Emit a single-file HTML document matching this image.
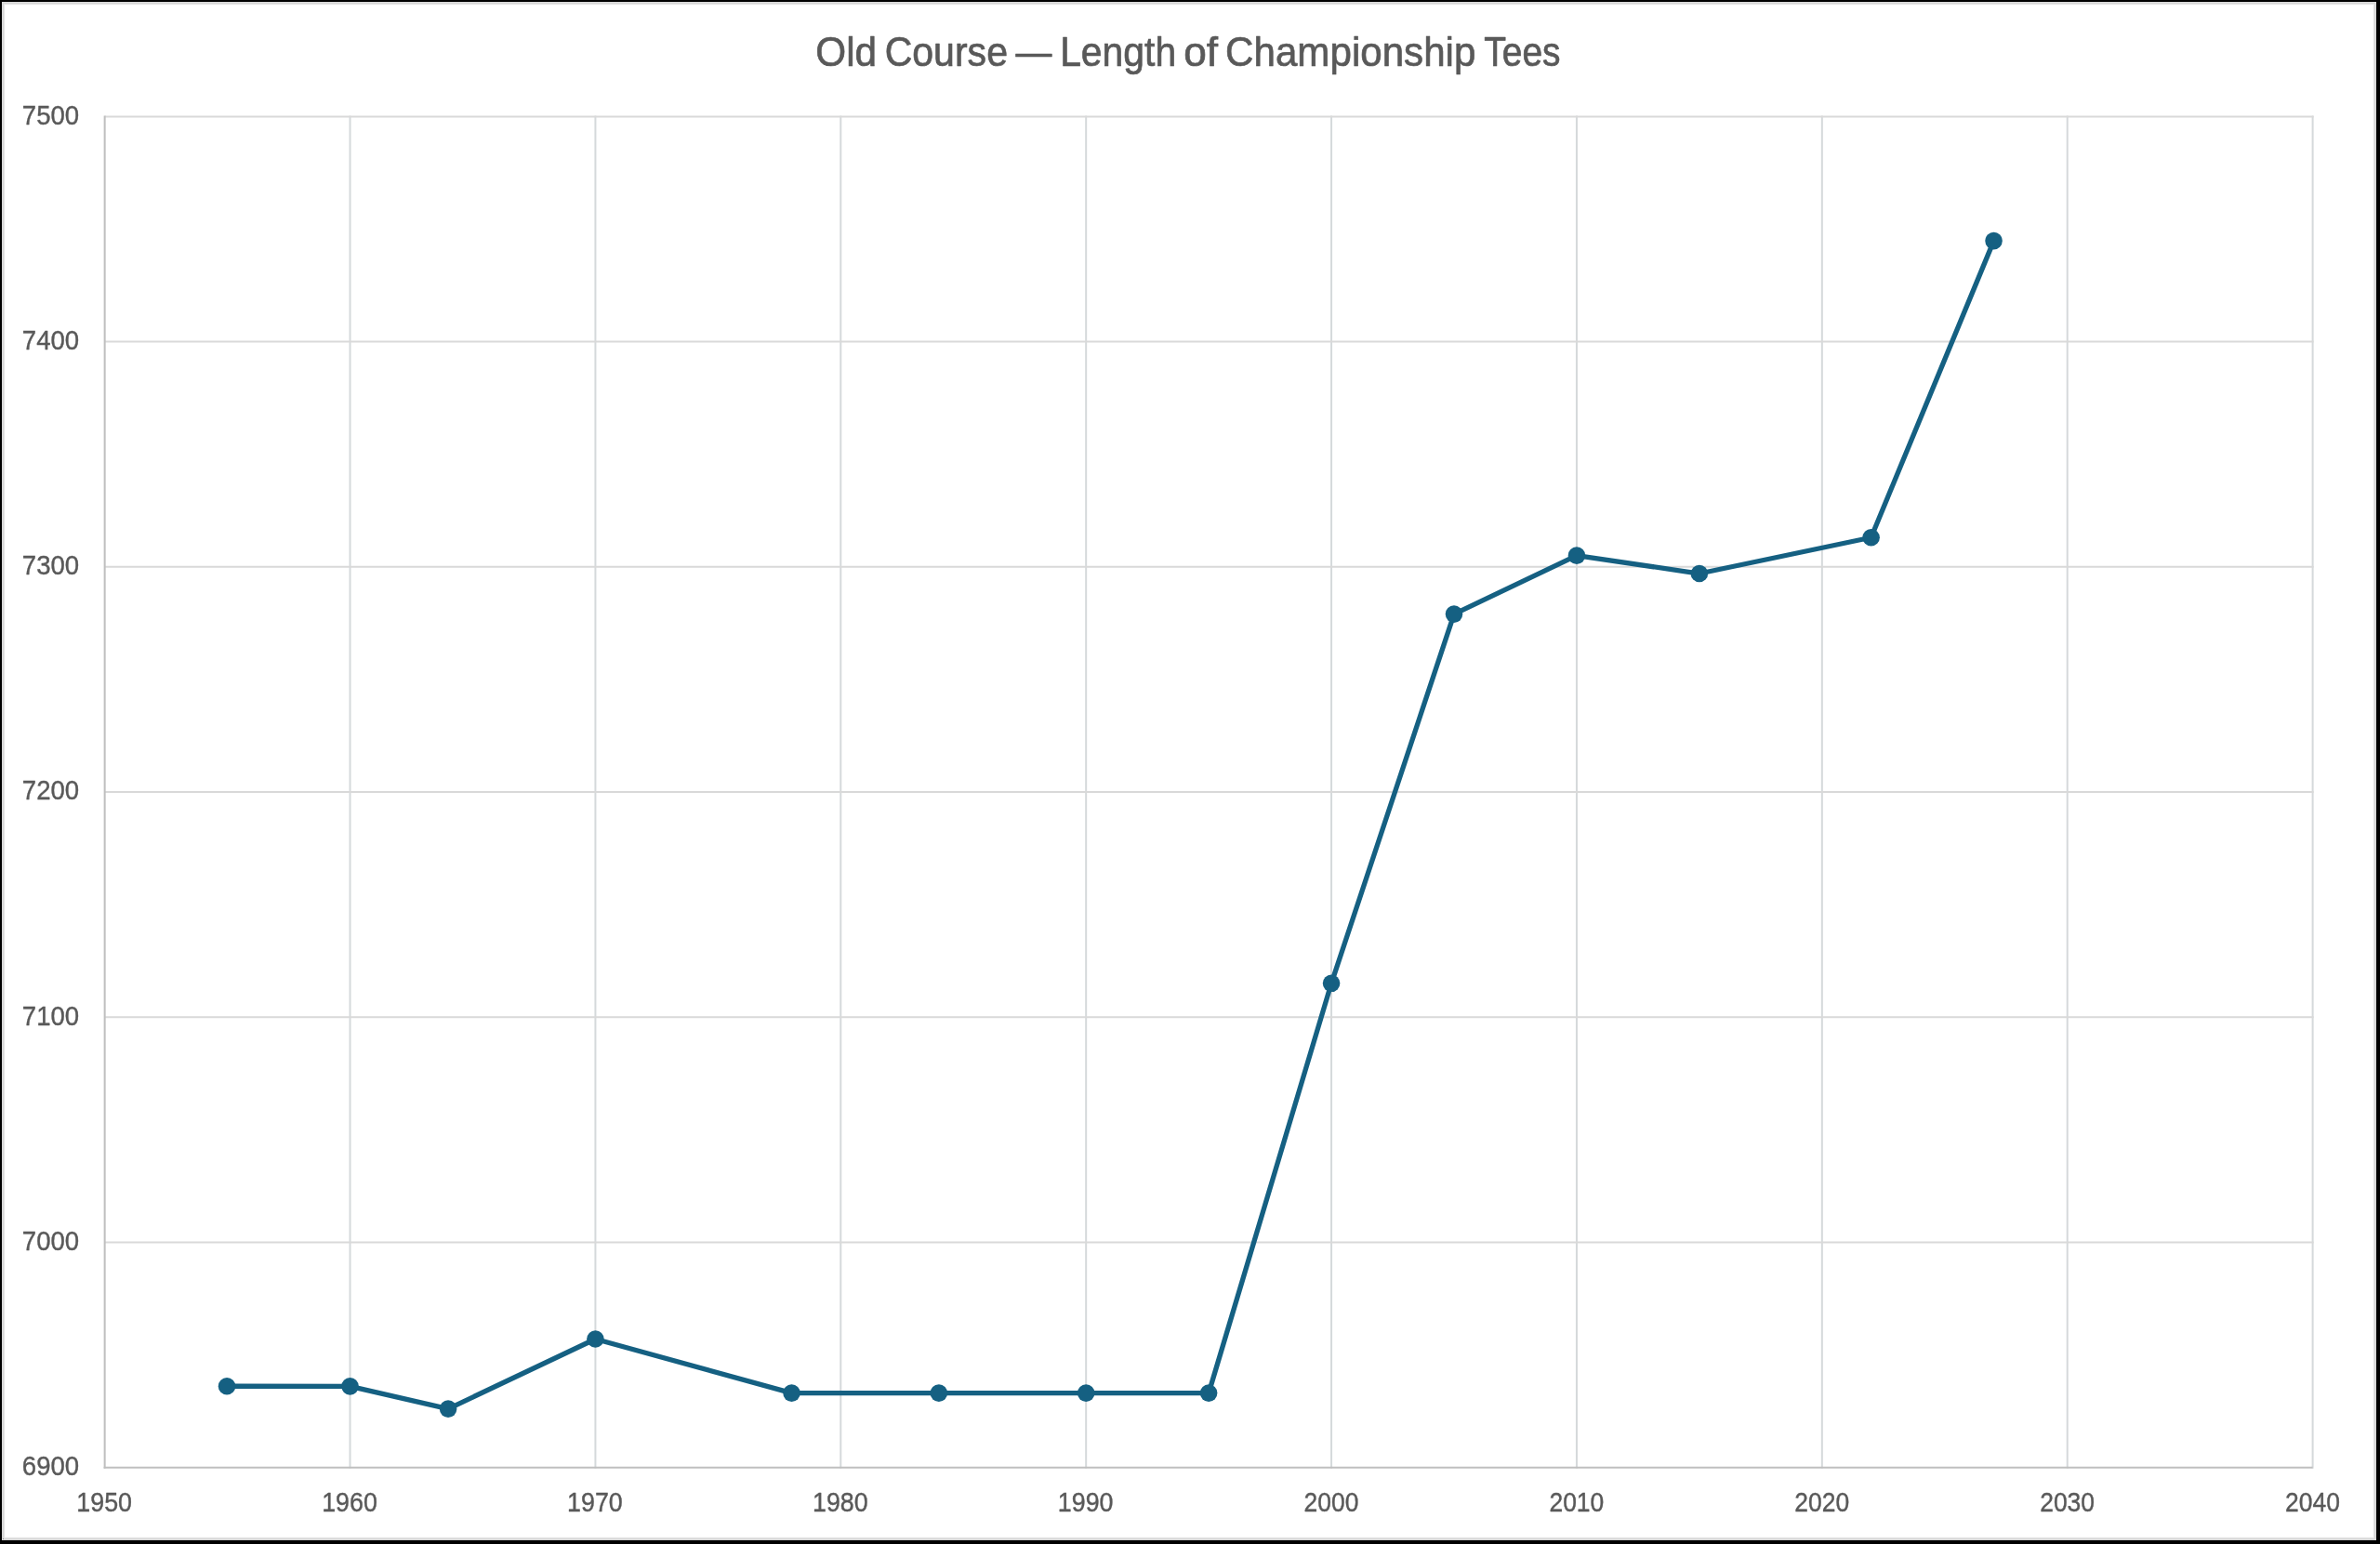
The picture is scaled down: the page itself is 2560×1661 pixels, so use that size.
<!DOCTYPE html>
<html lang="en"><head><meta charset="utf-8"><title>Old Course — Length of Championship Tees</title>
<style>
html,body{margin:0;padding:0;background:#fff;}
body{width:2560px;height:1661px;overflow:hidden;position:relative;font-family:"Liberation Sans",sans-serif;}
svg{position:absolute;left:0;top:0;display:block;}
text{font-family:"Liberation Sans",sans-serif;fill:#595959;}
</style></head><body>
<svg width="2560" height="1661" viewBox="0 0 2560 1661">
<rect x="0" y="0" width="2560" height="1661" fill="#000"/>
<rect x="2" y="2" width="2554" height="1655" fill="#dadada"/>
<rect x="3" y="3" width="2552" height="1653" fill="#d5d5d5"/>
<rect x="4" y="4" width="2550" height="1651" fill="#e4e4e4"/>
<rect x="5" y="5" width="2548" height="1649" fill="#fafafa"/>
<rect x="6" y="6" width="2546" height="1647" fill="#fff"/>
<rect x="3" y="1655" width="1" height="1" fill="#8a8a8a"/>
<g stroke="#d5d9db" stroke-width="2.00" fill="none">
<line x1="376.53" y1="124.40" x2="376.53" y2="1579.75"/>
<line x1="640.42" y1="124.40" x2="640.42" y2="1579.75"/>
<line x1="904.30" y1="124.40" x2="904.30" y2="1579.75"/>
<line x1="1168.18" y1="124.40" x2="1168.18" y2="1579.75"/>
<line x1="1432.07" y1="124.40" x2="1432.07" y2="1579.75"/>
<line x1="1695.95" y1="124.40" x2="1695.95" y2="1579.75"/>
<line x1="1959.83" y1="124.40" x2="1959.83" y2="1579.75"/>
<line x1="2223.72" y1="124.40" x2="2223.72" y2="1579.75"/>
<line x1="2487.60" y1="124.40" x2="2487.60" y2="1579.75"/>
</g>
<g stroke="#d9d9d9" stroke-width="2.00" fill="none">
<line x1="112.65" y1="1336.53" x2="2488.60" y2="1336.53"/>
<line x1="112.65" y1="1094.30" x2="2488.60" y2="1094.30"/>
<line x1="112.65" y1="852.08" x2="2488.60" y2="852.08"/>
<line x1="112.65" y1="609.85" x2="2488.60" y2="609.85"/>
<line x1="112.65" y1="367.62" x2="2488.60" y2="367.62"/>
<line x1="112.65" y1="125.40" x2="2488.60" y2="125.40"/>
</g>
<g stroke="#bfbfbf" stroke-width="2.00" fill="none">
<line x1="112.65" y1="124.40" x2="112.65" y2="1579.75"/>
<line x1="111.65" y1="1578.75" x2="2487.60" y2="1578.75"/>
</g>
<polyline points="244.06,1491.24 376.53,1491.36 482.09,1515.58 640.42,1440.50 851.52,1498.62 1009.85,1498.62 1168.18,1498.62 1300.12,1498.62 1432.07,1057.82 1564.01,660.61 1695.95,597.64 1827.89,617.02 2012.61,578.26 2144.55,259.12" fill="none" stroke="#156082" stroke-width="5.30" stroke-linejoin="round" stroke-linecap="round"/>
<g fill="#156082">
<circle cx="244.06" cy="1491.24" r="9.30"/>
<circle cx="376.53" cy="1491.36" r="9.30"/>
<circle cx="482.09" cy="1515.58" r="9.30"/>
<circle cx="640.42" cy="1440.50" r="9.30"/>
<circle cx="851.52" cy="1498.62" r="9.30"/>
<circle cx="1009.85" cy="1498.62" r="9.30"/>
<circle cx="1168.18" cy="1498.62" r="9.30"/>
<circle cx="1300.12" cy="1498.62" r="9.30"/>
<circle cx="1432.07" cy="1057.82" r="9.30"/>
<circle cx="1564.01" cy="660.61" r="9.30"/>
<circle cx="1695.95" cy="597.64" r="9.30"/>
<circle cx="1827.89" cy="617.02" r="9.30"/>
<circle cx="2012.61" cy="578.26" r="9.30"/>
<circle cx="2144.55" cy="259.12" r="9.30"/>
</g>
<g opacity="0.999" stroke="#595959" stroke-linejoin="round">
<text transform="translate(23.82,1587.15) scale(0.9503,1)" font-size="29.00" stroke-width="0.40">6900</text>
<text transform="translate(23.82,1344.93) scale(0.9503,1)" font-size="29.00" stroke-width="0.40">7000</text>
<text transform="translate(23.82,1102.70) scale(0.9503,1)" font-size="29.00" stroke-width="0.40">7100</text>
<text transform="translate(23.82,860.48) scale(0.9503,1)" font-size="29.00" stroke-width="0.40">7200</text>
<text transform="translate(23.82,618.25) scale(0.9503,1)" font-size="29.00" stroke-width="0.40">7300</text>
<text transform="translate(23.82,376.02) scale(0.9503,1)" font-size="29.00" stroke-width="0.40">7400</text>
<text transform="translate(23.82,133.80) scale(0.9503,1)" font-size="29.00" stroke-width="0.40">7500</text>
<text transform="translate(82.30,1625.60) scale(0.9261,1)" font-size="29.00" stroke-width="0.40">1950</text>
<text transform="translate(346.18,1625.60) scale(0.9261,1)" font-size="29.00" stroke-width="0.40">1960</text>
<text transform="translate(610.07,1625.60) scale(0.9261,1)" font-size="29.00" stroke-width="0.40">1970</text>
<text transform="translate(873.95,1625.60) scale(0.9261,1)" font-size="29.00" stroke-width="0.40">1980</text>
<text transform="translate(1137.83,1625.60) scale(0.9261,1)" font-size="29.00" stroke-width="0.40">1990</text>
<text transform="translate(1402.54,1625.60) scale(0.9131,1)" font-size="29.00" stroke-width="0.40">2000</text>
<text transform="translate(1666.43,1625.60) scale(0.9131,1)" font-size="29.00" stroke-width="0.40">2010</text>
<text transform="translate(1930.31,1625.60) scale(0.9131,1)" font-size="29.00" stroke-width="0.40">2020</text>
<text transform="translate(2194.19,1625.60) scale(0.9131,1)" font-size="29.00" stroke-width="0.40">2030</text>
<text transform="translate(2458.08,1625.60) scale(0.9131,1)" font-size="29.00" stroke-width="0.40">2040</text>
<text transform="translate(877.29,71.30) scale(0.9398,1)" font-size="45.00" stroke-width="0.70">Old</text>
<text transform="translate(951.65,71.30) scale(0.9123,1)" font-size="45.00" stroke-width="0.70">Course</text>
<text transform="translate(1092.50,71.30) scale(0.8622,1)" font-size="45.00" stroke-width="0.70">—</text>
<text transform="translate(1140.13,71.30) scale(0.9087,1)" font-size="45.00" stroke-width="0.70">Length</text>
<text transform="translate(1273.13,71.30) scale(0.9817,1)" font-size="45.00" stroke-width="0.70">of</text>
<text transform="translate(1318.09,71.30) scale(0.9365,1)" font-size="45.00" stroke-width="0.70">Championship</text>
<text transform="translate(1596.32,71.30) scale(0.8652,1)" font-size="45.00" stroke-width="0.70">Tees</text>
</g>
</svg>
</body></html>
